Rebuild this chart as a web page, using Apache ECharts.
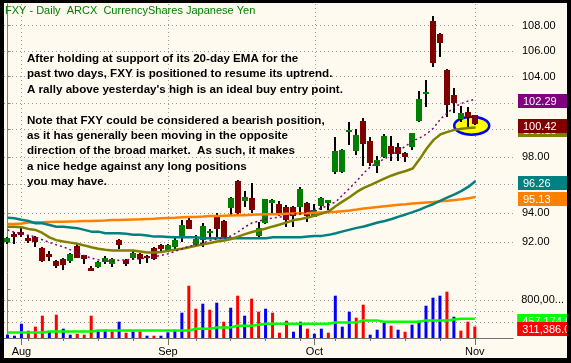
<!DOCTYPE html>
<html><head><meta charset="utf-8">
<script src="https://cdn.jsdelivr.net/npm/echarts@6/dist/echarts.min.js"></script>
<style>
html,body{margin:0;padding:0;background:#000;width:571px;height:363px;overflow:hidden}
#c{position:absolute;left:4px;top:3px;width:563px;height:355px;background:#FFFAF0}
</style></head><body><div id="c"></div>
<script>
// ---- categories ----
const dates = ['2008-07-30','2008-07-31','2008-08-01','2008-08-04','2008-08-05','2008-08-06','2008-08-07','2008-08-08','2008-08-11','2008-08-12','2008-08-13','2008-08-14','2008-08-15','2008-08-18','2008-08-19','2008-08-20','2008-08-21','2008-08-22','2008-08-25','2008-08-26','2008-08-27','2008-08-28','2008-08-29','2008-09-02','2008-09-03','2008-09-04','2008-09-05','2008-09-08','2008-09-09','2008-09-10','2008-09-11','2008-09-12','2008-09-15','2008-09-16','2008-09-17','2008-09-18','2008-09-19','2008-09-22','2008-09-23','2008-09-24','2008-09-25','2008-09-26','2008-09-29','2008-09-30','2008-10-01','2008-10-02','2008-10-03','2008-10-06','2008-10-07','2008-10-08','2008-10-09','2008-10-10','2008-10-13','2008-10-14','2008-10-15','2008-10-16','2008-10-17','2008-10-20','2008-10-21','2008-10-22','2008-10-23','2008-10-24','2008-10-27','2008-10-28','2008-10-29','2008-10-30','2008-10-31','2008-11-03'];
const padDates = ['2008-11-04','2008-11-05','2008-11-06','2008-11-07','2008-11-10'];

// ---- prices ----
const openP = [92.00,92.59,92.69,92.31,92.36,91.62,91.21,90.74,90.88,90.74, 91.75,91.10,90.25,90.35,90.69,90.55,92.15,90.81,90.94,91.21, 91.08,91.62,91.82,91.37,91.70,92.29,93.52,91.82,92.15,92.61, 93.77,93.45,94.33,96.27,94.86,95.04,92.43,93.34,94.69,94.62, 94.45,94.40,94.45,94.73,93.75,94.50,94.69,96.89,96.89,99.88, 98.44,100.65,99.16,97.34,98.00,98.79,98.69,98.30,98.69,100.65, 102.78,108.37,107.35,104.54,102.60,100.78,101.32,101.07];
const highP = [92.38,92.72,92.94,92.50,92.40,91.65,91.37,90.77,90.91,91.28, 91.89,91.14,90.40,90.74,91.05,90.91,92.19,90.84,91.41,91.24, 91.14,91.68,91.89,91.90,92.27,93.50,93.82,92.50,93.30,92.90, 94.02,93.55,95.10,96.34,95.58,96.13,93.40,94.99,94.99,94.83, 94.55,94.50,95.87,94.80,94.66,95.13,94.95,99.48,98.55,100.60, 100.05,100.90,99.48,98.07,99.68,99.53,98.99,98.35,99.78,102.87, 103.77,108.77,107.40,104.59,103.13,101.77,101.72,101.10];
const lowP = [91.87,91.89,92.34,91.95,91.70,90.67,90.74,90.25,90.14,90.60, 90.91,90.51,90.03,90.24,90.55,90.35,91.55,90.40,90.81,90.55, 90.60,90.81,91.41,91.30,91.55,92.00,92.87,91.75,91.70,92.34, 92.34,92.20,93.86,93.79,94.45,93.98,92.38,93.25,93.98,93.79, 93.06,93.06,93.86,93.40,93.73,94.25,94.25,96.77,96.82,98.87, 98.13,97.34,97.34,96.82,97.89,97.72,97.72,97.62,98.50,100.53, 101.72,104.75,105.53,100.93,101.23,100.60,100.22,100.34];
const closeP = [92.31,92.36,92.50,92.11,92.04,90.74,91.01,90.40,90.47,91.21, 90.96,90.88,90.07,90.67,90.92,90.88,91.82,90.55,91.28,90.88, 90.94,90.88,91.55,91.82,92.15,93.18,92.91,92.22,93.11,92.77, 92.91,92.34,95.04,93.98,95.13,94.20,92.95,94.97,94.95,93.98, 93.52,93.79,95.70,93.79,94.20,95.04,94.92,98.42,98.47,99.96, 99.61,98.94,97.53,97.77,99.53,98.20,98.22,97.96,99.73,102.28, 102.85,105.06,106.62,101.85,102.02,101.27,100.93,100.42];

// ---- moving averages ----
const ma200 = [93.25,93.25,93.28,93.35,93.36,93.36,93.39,93.41,93.41,93.42, 93.43,93.45,93.45,93.47,93.49,93.52,93.52,93.54,93.56,93.57, 93.59,93.61,93.64,93.66,93.68,93.71,93.73,93.73,93.76,93.80, 93.80,93.82,93.84,93.86,93.86,93.88,93.90,93.92,93.93,93.93, 93.95,93.97,93.99,94.00,94.02,94.05,94.07,94.09,94.14,94.19, 94.25,94.32,94.38,94.43,94.48,94.53,94.58,94.62,94.67,94.71, 94.75,94.78,94.83,94.87,94.92,94.97,95.05,95.13];
const ma50 = [93.68,93.64,93.54,93.45,93.30,93.30,93.18,93.06,93.06,93.01, 92.96,92.84,92.72,92.72,92.61,92.61,92.61,92.57,92.50,92.50, 92.46,92.38,92.38,92.36,92.34,92.34,92.34,92.33,92.27,92.27, 92.27,92.27,92.27,92.27,92.27,92.27,92.27,92.27,92.33,92.34, 92.34,92.34,92.34,92.39,92.43,92.43,92.50,92.61,92.74,92.86, 92.98,93.08,93.21,93.35,93.45,93.59,93.76,93.91,94.07,94.25, 94.46,94.64,94.87,95.10,95.31,95.56,95.86,96.26];
const ema20 = [93.06,93.06,93.02,92.91,92.84,92.63,92.33,92.14,92.04,91.97, 91.89,91.78,91.65,91.55,91.48,91.43,91.43,91.43,91.43,91.37, 91.30,91.30,91.33,91.41,91.48,91.55,91.66,91.75,91.85,91.95, 92.04,92.12,92.22,92.38,92.55,92.70,92.81,92.94,93.08,93.21, 93.36,93.52,93.60,93.69,93.83,93.97,94.14,94.50,94.82,95.13, 95.49,95.77,95.99,96.22,96.45,96.66,96.84,96.98,97.16,97.84, 98.61,99.24,99.66,99.83,99.98,100.07,100.12,100.15];
const ma10 = [92.84,92.67,92.60,92.46,92.36,92.16,91.99,91.82,91.68,91.48, 91.28,91.08,90.92,90.81,90.74,90.71,90.78,90.81,90.84,90.88, 90.94,91.01,91.11,91.21,91.38,91.55,91.72,91.82,91.95,92.12, 92.22,92.29,92.43,92.70,93.04,93.32,93.45,93.59,93.66,93.73, 93.80,93.93,94.00,94.09,94.21,94.36,94.57,94.80,95.28,95.77, 96.27,96.84,97.30,97.59,97.87,98.13,98.46,98.79,99.16,99.38, 99.68,100.13,100.80,101.25,101.70,101.96,102.15,102.29];

// ---- volume ----
const volume = [161000,142000,364000,235000,309000,512000,216000,530000,272000,161000, 179000,161000,512000,224000,253000,224000,401000,198000,224000,224000, 142000,142000,142000,205000,253000,567000,1065000,641000,733000,622000, 752000,401000,659000,881000,512000,826000,586000,641000,567000,198000, 419000,216000,401000,272000,179000,272000,198000,881000,309000,586000, 475000,715000,161000,253000,382000,327000,253000,216000,346000,419000, 696000,844000,881000,955000,493000,235000,401000,311386];
const volumeUp = [1,1,1,0,0,0,1,0,1,1, 0,0,0,1,1,0,1,0,1,0, 1,0,1,1,1,1,0,0,1,0, 1,0,1,0,1,0,0,1,0,0, 0,1,1,0,1,1,0,1,1,1, 0,0,1,1,1,0,1,0,1,1, 1,1,1,0,1,0,0,0];
const volMA = [203000,203000,203000,203000,203000,203000,222000,222000,222000,222000, 222000,222000,222000,240000,240000,240000,240000,240000,240000,240000, 240000,240000,240000,240000,240000,240000,240000,272000,272000,272000, 296000,296000,296000,327000,327000,327000,346000,364000,364000,364000, 364000,364000,364000,364000,364000,364000,364000,388000,388000,388000, 388000,425000,425000,425000,401000,401000,401000,401000,401000,401000, 425000,425000,425000,425000,443000,457174.6,457174.6,457174.6];

// ---- axes / ticks ----
const priceTicks = [92,94,96,98,100,102,104,106,108];
const priceRange = [89.99, 109.75];
const volRange = [100000, 1300000];
const volTicks = [800000, 1000000];
const volTickLabels = [800000];
const volGridValues = [400000, 600000, 800000];
const highlight = {index: 66.45, price: 100.29};

const titleText = 'FXY - Daily  ARCX  CurrencyShares Japanese Yen';
const noteLines = [
 'After holding at support of its 20-day EMA for the',
 'past two days, FXY is positioned to resume its uptrend.',
 "A rally above yesterday's high is an ideal buy entry point.",
 '',
 'Note that FXY could be considered a bearish position,',
 'as it has generally been moving in the opposite',
 'direction of the broad market.  As such, it makes',
 'a nice hedge against any long positions',
 'you may have.'
];

// ---- build ----
const L = Math.log;
const cats = dates.concat(padDates);
const N = cats.length;
const monthStarts = dates.map((d,i)=> (i>0 && d.slice(5,7)!==dates[i-1].slice(5,7)) ? i : -1).filter(i=>i>=0);
const mondays = dates.map((d,i)=> new Date(d+'T00:00:00Z').getUTCDay()===1 ? i : -1).filter(i=>i>=0);
const MON = ['Jan','Feb','Mar','Apr','May','Jun','Jul','Aug','Sep','Oct','Nov','Dec'];
const FONT = "'Liberation Sans', Arial, sans-serif";
const DOT = {color:'#9a9a9a', width:1, type:[1,3]};
const last = a => a[a.length-1];
const fmt2 = v => v.toFixed(2);
const fmtVol = v => v.toLocaleString('en-US',{minimumFractionDigits:1, maximumFractionDigits:1});

const candleData = dates.map((d,i)=>[i, L(openP[i]), L(closeP[i]), L(lowP[i]), L(highP[i])]);

function renderCandle(params, api){
  const i = api.value(0);
  const o = api.coord([i, api.value(1)]);
  const c = api.coord([i, api.value(2)]);
  const lo = api.coord([i, api.value(3)]);
  const hi = api.coord([i, api.value(4)]);
  const cx = Math.floor(o[0]);
  const top = Math.round(Math.min(o[1], c[1]));
  const bot = Math.round(Math.max(o[1], c[1]));
  const up = api.value(2) >= api.value(1);
  return {type:'group', children:[
    {type:'rect', shape:{x:cx-1, y:Math.round(hi[1]), width:2, height:Math.max(1, Math.round(lo[1])-Math.round(hi[1]))}, style:{fill:'#000'}},
    {type:'rect', shape:{x:cx-3, y:top, width:6, height:Math.max(2, bot-top)}, style:{fill: up ? '#008000' : '#800000'}}
  ]};
}
function renderEllipse(params, api){
  const p = api.coord([api.value(0), api.value(1)]);
  const rx = 17.5, ry = 9;
  const d = `M${p[0]-rx},${p[1]} A${rx},${ry} 0 1,0 ${p[0]+rx},${p[1]} A${rx},${ry} 0 1,0 ${p[0]-rx},${p[1]} Z`;
  return {type:'path', shape:{pathData:d}, style:{fill:'#FFFF00', stroke:'#0000FF', lineWidth:2.5}};
}
// value tags on the right axis, positioned through the axis scale
function renderTag(params, api){
  const p = api.coord([api.value(0), api.value(1)]);
  const item = tagItems[params.seriesIndex === volTagSeries ? 'vol' : 'price'][params.dataIndex];
  const yc = Math.round(p[1]) + 2;
  return {type:'group', children:[
    {type:'rect', shape:{x:params.coordSys.x + params.coordSys.width + 4, y:yc-7, width:60, height:14}, style:{fill:item.bg}},
    {type:'text', x:params.coordSys.x + params.coordSys.width + 9, y:yc+1, style:{text:item.text, fill:'#fff', font:"11px 'Liberation Sans', Arial, sans-serif", textVerticalAlign:'middle', textAlign:'left'}}
  ]};
}
const tagItems = {
  price:[
    {v:last(ma200), bg:'#FF8000', text:fmt2(last(ma200))},
    {v:last(ma50), bg:'#008080', text:fmt2(last(ma50))},
    {v:last(ema20), bg:'#808000', text:fmt2(last(ema20))},
    {v:last(closeP), bg:'#800000', text:fmt2(last(closeP))},
    {v:last(ma10), bg:'#800080', text:fmt2(last(ma10))}
  ],
  vol:[
    {v:last(volMA), bg:'#00FF00', text:fmtVol(last(volMA))},
    {v:last(volume), bg:'#FF0000', text:fmtVol(last(volume))}
  ]
};
const volTagSeries = 9;

const chart = echarts.init(document.getElementById('c'), null, {renderer:'canvas'});
chart.setOption({
  animation:false,
  backgroundColor:'#FFFAF0',
  title:[
    {text:titleText, left:0, top:0, padding:[2,0,0,1], textStyle:{color:'#008000', fontSize:11, fontWeight:'normal', fontFamily:FONT}},
    {text:noteLines.join('\n'), left:23, top:48, padding:0, textStyle:{color:'#000', fontSize:11.6, fontWeight:'bold', fontFamily:FONT, lineHeight:15.4}}
  ],
  grid:[
    {left:-1, top:1, width:511, height:268},
    {left:-1, top:270, width:511, height:65}
  ],
  xAxis:[
    {type:'category', gridIndex:0, data:cats, show:false},
    {type:'category', gridIndex:1, data:cats, show:false},
    {type:'value', gridIndex:0, min:-0.5, max:N-0.5, axisLine:{show:false}, axisTick:{show:false, customValues:monthStarts}, axisLabel:{show:false}, splitLine:{show:true, lineStyle:DOT}},
    {type:'value', gridIndex:1, min:-0.5, max:N-0.5, position:'bottom',
      axisLine:{show:true, onZero:false, lineStyle:{color:'#707070'}},
      axisTick:{show:true, length:7, customValues:monthStarts, lineStyle:{color:'#707070'}},
      axisLabel:{show:true, customValues:monthStarts, formatter:v=>MON[+dates[Math.round(v)].slice(5,7)-1], color:'#000', fontSize:11, fontFamily:FONT, margin:8},
      splitLine:{show:true, lineStyle:DOT}},
    {type:'value', gridIndex:1, min:-0.5, max:N-0.5, position:'bottom',
      axisLine:{show:false, onZero:false}, axisTick:{show:true, length:3, customValues:mondays, lineStyle:{color:'#707070'}},
      axisLabel:{show:false}, splitLine:{show:false}}
  ],
  yAxis:[
    {type:'value', gridIndex:0, position:'right', offset:3, min:L(priceRange[0]), max:L(priceRange[1]),
      axisLine:{show:true, lineStyle:{color:'#808080'}},
      axisTick:{show:true, length:3, customValues:priceTicks.map(L), lineStyle:{color:'#808080'}},
      axisLabel:{show:true, customValues:priceTicks.map(L), formatter:v=>fmt2(Math.exp(v)), color:'#000', fontSize:11, fontFamily:FONT, margin:5},
      splitLine:{show:true, lineStyle:DOT}},
    {type:'value', gridIndex:1, position:'right', offset:3, min:volRange[0], max:volRange[1],
      axisLine:{show:true, lineStyle:{color:'#808080'}},
      axisTick:{show:true, length:3, customValues:volTicks, lineStyle:{color:'#808080'}},
      axisLabel:{show:true, customValues:volTickLabels, formatter:v=>v.toLocaleString('en-US').slice(0,6)+'...', color:'#000', fontSize:11, fontFamily:FONT, margin:5},
      splitLine:{show:false}},
    {type:'value', gridIndex:1, position:'right', offset:3, min:volRange[0], max:volRange[1],
      axisLine:{show:false}, axisTick:{show:false, customValues:volGridValues}, axisLabel:{show:false},
      splitLine:{show:true, lineStyle:DOT}}
  ],
  series:[
    {type:'custom', xAxisIndex:2, yAxisIndex:0, silent:true, data:[[highlight.index, L(highlight.price)]], encode:{x:0,y:1}, renderItem:renderEllipse},
    {type:'custom', xAxisIndex:0, yAxisIndex:0, silent:true, data:candleData, encode:{x:0, y:[1,2,3,4]}, renderItem:renderCandle},
    {type:'line', xAxisIndex:0, yAxisIndex:0, silent:true, showSymbol:false, data:ma200.map(L), lineStyle:{color:'#FF8000', width:2.5}},
    {type:'line', xAxisIndex:0, yAxisIndex:0, silent:true, showSymbol:false, data:ma50.map(L), lineStyle:{color:'#008080', width:2.5}},
    {type:'line', xAxisIndex:0, yAxisIndex:0, silent:true, showSymbol:false, data:ema20.map(L), lineStyle:{color:'#808000', width:2.5}},
    {type:'line', xAxisIndex:0, yAxisIndex:0, silent:true, showSymbol:false, data:ma10.map(L), lineStyle:{color:'#800080', width:1.5, type:[2,3]}},
    {type:'bar', xAxisIndex:1, yAxisIndex:1, silent:true, barWidth:3,
      data:volume.map((v,i)=>({value:v, itemStyle:{color: volumeUp[i] ? '#0000FF' : '#FF0000'}}))},
    {type:'line', xAxisIndex:1, yAxisIndex:1, silent:true, showSymbol:false, data:volMA, lineStyle:{color:'#00FF00', width:2.5}},
    {type:'custom', xAxisIndex:2, yAxisIndex:0, silent:true, clip:false, z:10, encode:{x:0,y:1},
      data:tagItems.price.map(t=>[0, L(t.v)]), renderItem:renderTag},
    {type:'custom', xAxisIndex:3, yAxisIndex:1, silent:true, clip:false, z:10, encode:{x:0,y:1},
      data:tagItems.vol.map(t=>[0, t.v]), renderItem:renderTag}
  ]
});
</script></body></html>
